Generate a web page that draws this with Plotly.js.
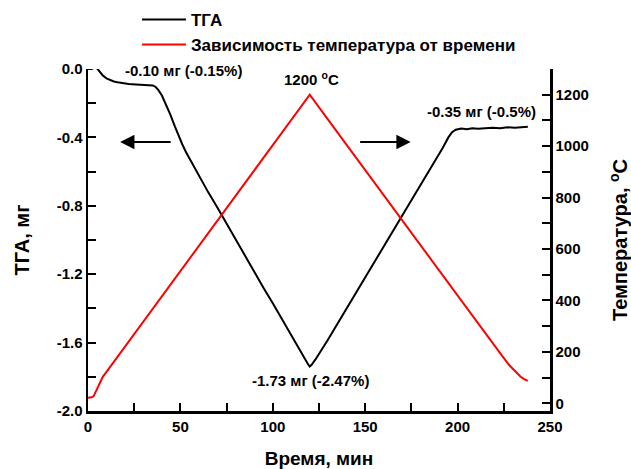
<!DOCTYPE html>
<html>
<head>
<meta charset="utf-8">
<script src="https://cdn.plot.ly/plotly-3.0.1.min.js"></script>
<style>html,body{margin:0;padding:0;background:#fff;}#chart{width:631px;height:469px;}</style>
</head>
<body>
<div id="chart"></div>
<script>
// TGA series (time, min ; mass change, mg)
const tgaTime = [0, 1, 2, 3, 4, 5, 6, 7, 8, 10, 12, 14, 16, 19, 22, 26, 30, 33, 35, 36.5, 38, 40, 42, 44.5, 47, 49, 51, 53,
  55, 60, 65, 70, 75, 80, 85, 90, 95, 100, 105, 110, 114, 117, 119, 120, 121, 123, 126, 130, 135, 140, 145, 150,
  155, 160, 165, 170, 175, 180, 185, 189, 192, 195, 197, 199, 202, 205, 208, 211, 215, 219, 223, 227, 231, 235, 238];
const tgaMass = [0.0, -0.002, 0.0, 0.006, 0.008, 0.002, -0.01, -0.025, -0.038, -0.055, -0.066, -0.073, -0.078, -0.084, -0.088, -0.091, -0.093, -0.094, -0.096, -0.104, -0.122, -0.155, -0.2, -0.265, -0.335, -0.39, -0.44, -0.485,
  -0.525, -0.625, -0.72, -0.81, -0.905, -1.0, -1.09, -1.185, -1.28, -1.37, -1.465, -1.56, -1.635, -1.69, -1.725, -1.74, -1.73, -1.70, -1.65, -1.58, -1.49, -1.40, -1.31, -1.22,
  -1.13, -1.04, -0.95, -0.86, -0.77, -0.68, -0.59, -0.52, -0.46, -0.40, -0.37, -0.355, -0.348, -0.352, -0.346, -0.350, -0.347, -0.344, -0.346, -0.341, -0.343, -0.339, -0.337];

// Temperature series (time, min ; temperature, °C)
const tempTime = [0, 1, 2, 3, 4, 5, 6, 7, 8, 10, 20, 30, 40, 50, 60, 70, 80, 90, 100, 110, 120,
  130, 140, 150, 160, 170, 180, 190, 200, 210, 215, 220, 224, 228, 231, 234, 236, 238];
const tempValue = [22, 22, 23, 27, 42, 60, 78, 92, 103, 122, 220, 318, 416, 514, 612, 710, 808, 906, 1004, 1102, 1200,
  1102, 1004, 907, 809, 711, 614, 516, 418, 320, 271, 222, 185, 148, 124, 104, 94, 87];

// Axis ticks
const xTicks = [0, 50, 100, 150, 200, 250];
const xMinor = [25, 75, 125, 175, 225];
const yTicks = [0, -0.4, -0.8, -1.2, -1.6, -2.0];
const yTickText = ['0.0', '-0.4', '-0.8', '-1.2', '-1.6', '-2.0'];
const yMinor = [-0.2, -0.6, -1.0, -1.4, -1.8];
const y2Ticks = [0, 200, 400, 600, 800, 1000, 1200];
const y2Minor = [100, 300, 500, 700, 900, 1100, 1300];

const FONT = 'Liberation Sans, Arial, sans-serif';
const tickFont = {family: FONT, size: 15, color: '#000', weight: 'bold'};
const xTitleFont = {family: FONT, size: 19, color: '#000', weight: 'bold'};
const yTitleFont = {family: FONT, size: 20, color: '#000', weight: 'bold'};
const labelFont = {family: FONT, size: 15, color: '#000', weight: 'bold'};

const traces = [
  {x: tgaTime, y: tgaMass, type: 'scatter', mode: 'lines', name: 'ТГА',
   line: {color: '#000000', width: 2}, yaxis: 'y'},
  {x: tempTime, y: tempValue, type: 'scatter', mode: 'lines', name: 'Зависимость температура от времени',
   line: {color: '#ff0000', width: 2}, yaxis: 'y2'}
];

const axisCommon = {
  showline: true, linecolor: '#000', linewidth: 2.5, ticks: 'inside', ticklen: 8, tickwidth: 2,
  tickcolor: '#000', showgrid: false, zeroline: false, tickfont: tickFont, fixedrange: true
};

const layout = {
  width: 631, height: 469,
  margin: {l: 88, r: 81, t: 69, b: 58, pad: 0, autoexpand: false},
  paper_bgcolor: '#fff', plot_bgcolor: '#fff',
  showlegend: true,
  legend: {x: 0.106, xanchor: 'left', y: 1.196, yanchor: 'top', bgcolor: 'rgba(0,0,0,0)',
    font: {family: FONT, size: 17, color: '#000', weight: 'bold'}, itemwidth: 44, tracegroupgap: 0},
  xaxis: Object.assign({}, axisCommon, {
    range: [0, 250], tickmode: 'array', tickvals: xTicks, ticktext: xTicks.map(String),
    minor: {tickmode: 'array', tickvals: xMinor, ticks: 'inside', ticklen: 8, tickwidth: 2, tickcolor: '#000', showgrid: false},
    title: {text: 'Время, мин', font: xTitleFont, standoff: 18}
  }),
  yaxis: Object.assign({}, axisCommon, {
    range: [-2.0, 0.0], tickmode: 'array', tickvals: yTicks, ticktext: yTickText,
    minor: {tickmode: 'array', tickvals: yMinor, ticks: 'inside', ticklen: 8, tickwidth: 2, tickcolor: '#000', showgrid: false},
    title: {text: 'ТГА, мг', font: yTitleFont, standoff: 22}
  }),
  yaxis2: Object.assign({}, axisCommon, {
    overlaying: 'y', side: 'right', anchor: 'x',
    range: [-30, 1300], tickmode: 'array', tickvals: y2Ticks, ticktext: y2Ticks.map(String),
    minor: {tickmode: 'array', tickvals: y2Minor, ticks: 'inside', ticklen: 8, tickwidth: 2, tickcolor: '#000', showgrid: false},
    title: {text: 'Температура, <sup>o</sup>C', font: yTitleFont, standoff: 28}
  }),
  annotations: [
    {xref: 'x', yref: 'y', x: 51.5, y: -0.006, text: '-0.10 мг (-0.15%)', showarrow: false, font: labelFont},
    {xref: 'x', yref: 'y', x: 121, y: -0.053, text: '1200 <sup>o</sup>C', showarrow: false, font: labelFont},
    {xref: 'x', yref: 'y', x: 120.4, y: -1.819, text: '-1.73 мг (-2.47%)', showarrow: false, font: labelFont},
    {xref: 'x', yref: 'y', x: 213, y: -0.251, text: '-0.35 мг (-0.5%)', showarrow: false, font: labelFont},
    {xref: 'x', yref: 'y', x: 17.4, y: -0.427, text: '', showarrow: true, arrowhead: 2, arrowsize: 1.3,
     arrowwidth: 2.2, arrowcolor: '#000', ax: 52, ay: 0, standoff: 0},
    {xref: 'x', yref: 'y', x: 174.6, y: -0.427, text: '', showarrow: true, arrowhead: 2, arrowsize: 1.3,
     arrowwidth: 2.2, arrowcolor: '#000', ax: -52, ay: 0, standoff: 0}
  ]
};

Plotly.newPlot('chart', traces, layout, {displayModeBar: false, staticPlot: true});
</script>
</body>
</html>
